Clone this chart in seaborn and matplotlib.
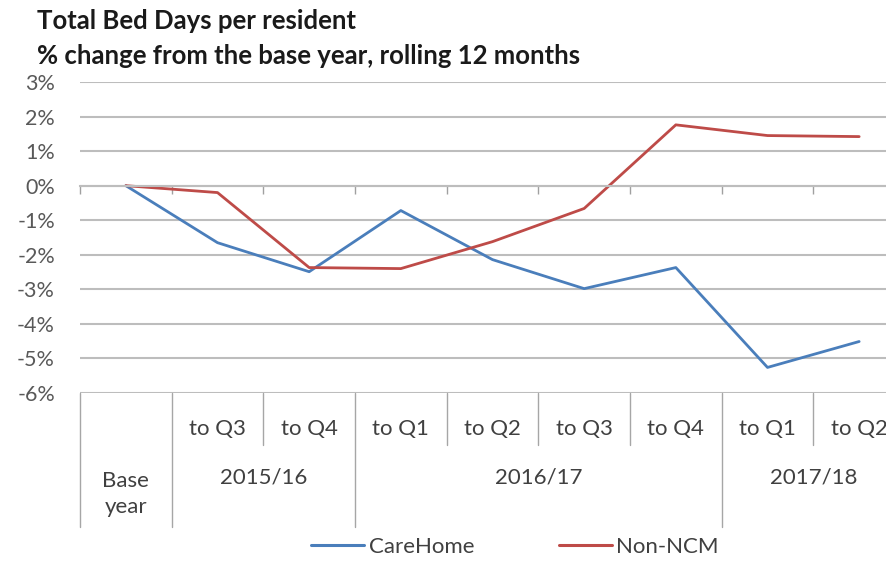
import numpy as np
import pandas as pd
import matplotlib
matplotlib.use("Agg")
import matplotlib.pyplot as plt
import seaborn as sns
from matplotlib.ticker import FixedLocator, PercentFormatter

sns.set_theme(style="white")
plt.rcParams['font.family'] = ['Lato', 'DejaVu Sans']
plt.rcParams['axes.unicode_minus'] = False

# data
quarters = ["Base\nyear", "to Q3", "to Q4", "to Q1", "to Q2", "to Q3", "to Q4", "to Q1", "to Q2"]
years = ["", "2015/16", "2015/16", "2016/17", "2016/17", "2016/17", "2016/17", "2017/18", "2017/18"]
care_home = [0.0, -1.65, -2.49, -0.72, -2.14, -2.98, -2.37, -5.26, -4.51]
non_ncm = [0.0, -0.20, -2.37, -2.40, -1.62, -0.66, 1.76, 1.45, 1.42]

n = len(quarters)
df = pd.concat([
    pd.DataFrame({"pos": np.arange(n), "value": care_home, "series": "CareHome"}),
    pd.DataFrame({"pos": np.arange(n), "value": non_ncm, "series": "Non-NCM"}),
])

fig = plt.figure(figsize=(8.87, 5.61), dpi=100)
W, H = 887, 561
# plot area runs past the right edge, as in the cropped original
ax = fig.add_axes([80 / W, 1 - 393 / H, 825 / W, (393 - 82) / H])

sns.lineplot(data=df, x="pos", y="value", hue="series",
             palette={"CareHome": "#4a7ebb", "Non-NCM": "#be4b48"},
             linewidth=2.0, ax=ax, legend=False)

ax.set_xlim(-0.5, n - 0.5)
ax.set_ylim(-6, 3)
ax.set_xlabel("")
ax.set_ylabel("")
ax.yaxis.set_major_locator(FixedLocator(np.arange(-6, 4, 1)))
ax.yaxis.set_major_formatter(PercentFormatter(decimals=0))
ax.grid(axis="y", color="#bdbdbd", linewidth=1.5)
ax.grid(axis="x", visible=False)
ax.set_axisbelow(True)
for s in ["top", "right", "left"]:
    ax.spines[s].set_visible(False)

# category axis crosses at 0, tick marks only
ax.spines["bottom"].set_position(("data", 0))
ax.spines["bottom"].set_color("#bdbdbd")
ax.spines["bottom"].set_linewidth(1.5)
bounds = np.arange(n + 1) - 0.5
ax.set_xticks(bounds)
ax.set_xticklabels([])
ax.tick_params(axis="x", direction="out", length=6, width=1.0, color="#a0a0a0", bottom=True)
ax.tick_params(axis="y", length=0, pad=18, labelsize=15.5, labelcolor="#595959")

# multi-level category labels below the plot
tr = ax.get_xaxis_transform()
line_kw = dict(color="#a6a6a6", linewidth=1.0, clip_on=False)
for i, b in enumerate(bounds):
    if i == 0 or i == n or years[i] != years[i - 1]:
        ax.plot([b, b], [0, -0.431], transform=tr, **line_kw)
    else:
        ax.plot([b, b], [0, -0.167], transform=tr, **line_kw)

lab_kw = dict(transform=tr, ha="center", va="center", fontsize=16, color="#404040")
for i, q in enumerate(quarters):
    if years[i] == "":
        ax.text(i, -0.325, q, linespacing=1.35, **lab_kw)
    else:
        ax.text(i, -0.116, q, **lab_kw)

for y in dict.fromkeys(y for y in years if y):
    idx = [i for i, v in enumerate(years) if v == y]
    ax.text(np.mean(idx), -0.273, y, **lab_kw)

# legend
handles = [plt.Line2D([], [], color="#4a7ebb", linewidth=2.2),
           plt.Line2D([], [], color="#be4b48", linewidth=2.2)]
fig.legend(handles, ["CareHome", "Non-NCM"], loc="center",
           bbox_to_anchor=(515 / W, 1 - 547 / H), ncol=2, frameon=False,
           fontsize=16, handlelength=2.4, columnspacing=3.8, handletextpad=0.2,
           labelcolor="#404040")

fig.text(37 / W, 1 - 21 / H, "Total Bed Days per resident", fontsize=18.5,
         fontweight="bold", color="#1a1a1a", va="center", ha="left")
fig.text(37 / W, 1 - 56 / H, "% change from the base year, rolling 12 months",
         fontsize=18.5, fontweight="bold", color="#1a1a1a", va="center", ha="left")

fig.savefig("out.png", dpi=100)
